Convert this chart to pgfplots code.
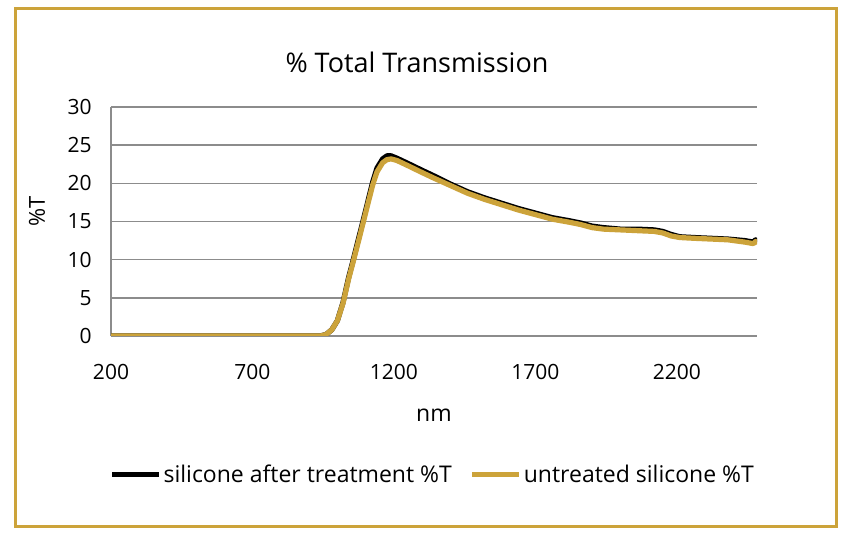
\documentclass[border=0pt]{standalone}
\usepackage{pgfplots}
\pgfplotsset{compat=1.18}
\usepackage{fontspec}
\setmainfont{Open Sans}
\definecolor{gold}{RGB}{204,163,58}
\definecolor{gridgray}{RGB}{140,140,140}
\begin{document}
\begin{tikzpicture}[x=0.5pt,y=0.5pt]
% page background and frame (pixel units)
\fill[white] (0,0) rectangle (852,549);
\draw[gold, line width=1.5pt] (15.5,22.5) rectangle (836.5,540.5);
\begin{axis}[
  at={(55.5pt,106.5pt)}, anchor=south west,
  scale only axis, width=323pt, height=114.5pt,
  xmin=200, xmax=2483, ymin=0, ymax=30,
  xtick={200,700,1200,1700,2200},
  ytick={0,5,...,30},
  major tick length=0pt,
  axis lines=left,
  axis line style={draw=gridgray, line width=0.75pt, -},
  ymajorgrids, grid style={gridgray, line width=0.75pt},
  ticklabel style={font=\fontsize{10.5}{12}\selectfont, inner sep=0pt},
  xticklabel style={yshift=-14pt},
  yticklabel style={xshift=-9.5pt},
  /pgf/number format/assume math mode=true,
  /pgf/number format/set thousands separator={},
  legend columns=2,
  legend style={at={(0.498,-0.607)}, anchor=center, draw=none, fill=none,
    font=\fontsize{11.5}{13}\selectfont, nodes={inner sep=1pt},
    /tikz/every even column/.append style={column sep=8pt}},
  legend image code/.code={\draw[#1, line width=2.5pt] (0pt,0pt) -- (23.5pt,0pt);},
]
\addplot[black, line width=2.6pt, line join=round] coordinates {
(200,0) (940,0) (960,0.2) (980,0.8) (1000,2.0) (1020,4.4) (1040,7.7) (1055,9.8)
(1080,13.5) (1105,17.2) (1125,20.2) (1140,22.0) (1160,23.2) (1175,23.6) (1190,23.6)
(1210,23.3) (1250,22.6) (1300,21.7) (1340,21.0) (1400,19.9) (1460,18.9) (1520,18.1)
(1580,17.4) (1640,16.7) (1700,16.1) (1760,15.5) (1820,15.1) (1860,14.8) (1900,14.4)
(1940,14.2) (2000,14.0) (2060,14.0) (2120,13.9) (2150,13.7) (2180,13.3) (2210,13.0)
(2260,12.9) (2320,12.8) (2380,12.7) (2440,12.5) (2470,12.3) (2478,12.6) (2483,12.4)
};
\addlegendentry{silicone after treatment \%T}
\addplot[gold, line width=2.6pt, line join=round] coordinates {
(200,0) (940,0) (960,0.2) (980,0.8) (1000,2.0) (1020,4.3) (1040,7.5) (1055,9.6)
(1080,13.2) (1105,16.9) (1125,19.8) (1140,21.5) (1160,22.7) (1175,23.1) (1190,23.2)
(1210,23.0) (1250,22.3) (1300,21.4) (1340,20.7) (1400,19.7) (1460,18.7) (1520,17.9)
(1580,17.2) (1640,16.5) (1700,15.9) (1760,15.3) (1820,14.9) (1860,14.6) (1900,14.2)
(1940,14.0) (2000,13.9) (2060,13.8) (2120,13.7) (2150,13.5) (2180,13.1) (2210,12.9)
(2260,12.8) (2320,12.7) (2380,12.6) (2440,12.3) (2470,12.1) (2478,12.4) (2483,12.0)
};
\addlegendentry{untreated silicone \%T}
\end{axis}
\node[font=\fontsize{13.5}{16}\selectfont, anchor=base] at (417,476) {\% Total Transmission};
\node[font=\fontsize{11.5}{13}\selectfont, anchor=base] at (434,127) {nm};
\node[font=\fontsize{11}{13}\selectfont, rotate=90] at (37,338) {\%T};
\end{tikzpicture}
\end{document}
